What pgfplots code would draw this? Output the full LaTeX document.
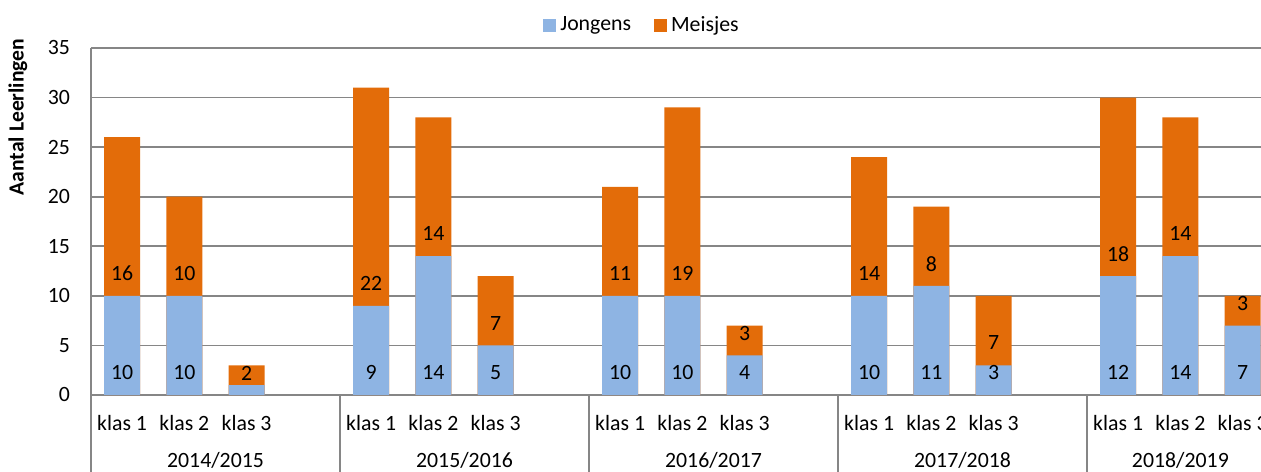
\documentclass[border=0pt]{standalone}
\usepackage{fontspec}
\setmainfont{Carlito}
\usepackage{pgfplots}
\usepackage{pgfplotstable}
\pgfplotsset{compat=1.18}
\definecolor{jongens}{HTML}{8EB4E3}
\definecolor{meisjes}{HTML}{E36C09}
\definecolor{rooster}{HTML}{868686}
\newcommand\lbl{\fontsize{10.9pt}{13pt}\selectfont}
\pgfplotsset{sq/.style={legend image code/.code={\fill[##1] (0pt,-3.25pt) rectangle (6.5pt,3.25pt);}}}

% x: klas positions, 4 slots per schooljaar (last slot empty)
\pgfplotstableread{
x  j  m
0  10 16
1  10 10
2  1  2
4  9  22
5  14 14
6  5  7
8  10 11
9  10 19
10 4  3
12 10 14
13 11 8
14 3  7
16 12 18
17 14 14
18 7  3
}\leerlingen

\begin{document}
\begin{tikzpicture}
\begin{axis}[
  name=ax,
  scale only axis, width=585pt, height=173.5pt,
  xmin=-0.5, xmax=18.295, ymin=0, ymax=35,
  ytick={0,5,...,35},
  ymajorgrids, grid style={rooster, line width=0.8pt},
  axis x line*=bottom, axis y line*=left,
  axis line style={rooster, line width=0.8pt},
  major tick length=0pt,
  xtick={0,1,2,4,5,6,8,9,10,12,13,14,16,17,18},
  xticklabels={klas 1,klas 2,klas 3,klas 1,klas 2,klas 3,klas 1,klas 2,klas 3,klas 1,klas 2,klas 3,klas 1,klas 2,klas 3},
  extra x ticks={-0.5,3.5,7.5,11.5,15.5},
  extra x tick labels={},
  extra x tick style={major tick length=45pt, tick align=outside, tick style={rooster, line width=0.8pt}},
  tick label style={font=\lbl},
  /pgf/number format/assume math mode=true,
  yticklabel style={xshift=-7pt},
  xticklabel style={yshift=-6.5pt},
  ylabel={Aantal Leerlingen},
  ylabel style={at={(rel axis cs:0,0.801)}, anchor=center, yshift=36.5pt, font=\bfseries\fontsize{10.8pt}{12pt}\selectfont},
  legend style={at={(0.4718,1.066)}, anchor=center, draw=none, font=\lbl,
    /tikz/every even column/.append style={column sep=9.5pt}},
  legend columns=2,
  clip=false,
]
\addplot[ybar, bar width=18pt, bar shift=0pt, fill=meisjes, draw=none, forget plot]
  table[x=x, y expr=\thisrow{j}+\thisrow{m}] {\leerlingen};
\addplot[ybar, bar width=18pt, bar shift=0pt, fill=jongens, draw=none, sq]
  table[x=x, y=j] {\leerlingen};
\addlegendentry{Jongens}
\addlegendimage{sq, fill=meisjes, draw=none}
\addlegendentry{Meisjes}

\addplot[forget plot, draw=none, mark=none, nodes near coords, nodes near coords align=center,
  point meta=explicit symbolic, skip coords between index={2}{3},
  every node near coord/.append style={font=\lbl, text=black}]
  table[x=x, y expr=2.25, meta=j] {\leerlingen};
\addplot[forget plot, draw=none, mark=none, nodes near coords, nodes near coords align=center,
  point meta=explicit symbolic,
  every node near coord/.append style={font=\lbl, text=black}]
  table[x=x, y expr={\thisrow{j}+min(2.25,\thisrow{m}-0.8)}, meta=m] {\leerlingen};

\node[font=\lbl] at (axis cs:1.5,0)  [yshift=-32.5pt] {2014/2015};
\node[font=\lbl] at (axis cs:5.5,0)  [yshift=-32.5pt] {2015/2016};
\node[font=\lbl] at (axis cs:9.5,0)  [yshift=-32.5pt] {2016/2017};
\node[font=\lbl] at (axis cs:13.5,0) [yshift=-32.5pt] {2017/2018};
\node[font=\lbl] at (axis cs:17,0)   [yshift=-32.5pt] {2018/2019};
\end{axis}
\pgfresetboundingbox
\path[use as bounding box] ([shift={(-45.5pt,-38.5pt)}]ax.south west) rectangle ([shift={(0pt,24pt)}]ax.north east);
\end{tikzpicture}
\end{document}
